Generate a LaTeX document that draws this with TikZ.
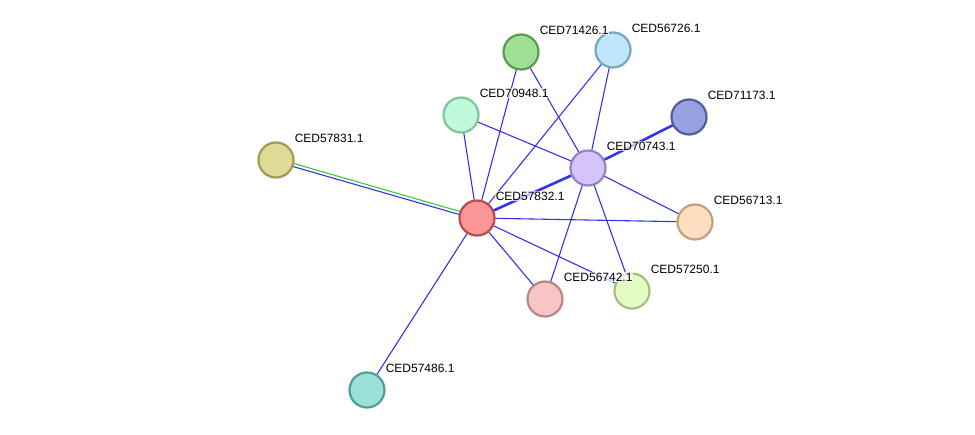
\documentclass[tikz,border=0pt]{standalone}
\usepackage{fontspec}
\setmainfont{Liberation Sans}
\usetikzlibrary{backgrounds}
\definecolor{edgeblue}{HTML}{3333EE}
\definecolor{edgegreen}{HTML}{33CC33}
\tikzset{
  prot/.style={circle, minimum size=35pt, inner sep=0pt, line width=2.2pt},
  lab/.style={anchor=west, font=\fontsize{12}{14}\selectfont, inner sep=0.6pt, fill=white, fill opacity=0.7, text opacity=1},
  edge/.style={draw=edgeblue, line width=1.1pt},
  thick edge/.style={draw=edgeblue, line width=2.6pt},
}
\begin{document}
\begin{tikzpicture}[x=1pt,y=-1pt]
\useasboundingbox (0,0) rectangle (975,435);
\node[prot, fill={rgb,255:red,250;green,150;blue,150}, draw={rgb,255:red,185;green,75;blue,75}] (n57832) at (477,218) {};
\node[prot, fill={rgb,255:red,212;green,196;blue,250}, draw={rgb,255:red,150;green,130;blue,195}] (n70743) at (588,168) {};
\node[prot, fill={rgb,255:red,160;green,224;blue,148}, draw={rgb,255:red,88;green,155;blue,80}] (n71426) at (521,52) {};
\node[prot, fill={rgb,255:red,192;green,230;blue,252}, draw={rgb,255:red,122;green,165;blue,190}] (n56726) at (613,50) {};
\node[prot, fill={rgb,255:red,192;green,250;blue,218}, draw={rgb,255:red,128;green,196;blue,158}] (n70948) at (461,115) {};
\node[prot, fill={rgb,255:red,152;green,162;blue,224}, draw={rgb,255:red,80;green,94;blue,158}] (n71173) at (689,117) {};
\node[prot, fill={rgb,255:red,222;green,220;blue,150}, draw={rgb,255:red,160;green,154;blue,82}] (n57831) at (276,160) {};
\node[prot, fill={rgb,255:red,253;green,222;blue,192}, draw={rgb,255:red,192;green,160;blue,128}] (n56713) at (695,222) {};
\node[prot, fill={rgb,255:red,226;green,252;blue,196}, draw={rgb,255:red,166;green,190;blue,128}] (n57250) at (632,291) {};
\node[prot, fill={rgb,255:red,248;green,196;blue,196}, draw={rgb,255:red,184;green,134;blue,134}] (n56742) at (545,299) {};
\node[prot, fill={rgb,255:red,156;green,224;blue,216}, draw={rgb,255:red,80;green,158;blue,150}] (n57486) at (367,390) {};

\begin{pgfonlayer}{background}
\draw[edge] (n57832.center) -- (n71426.center);
\draw[edge] (n57832.center) -- (n56726.center);
\draw[edge] (n57832.center) -- (n70948.center);
\draw[edge] (n57832.center) -- (n56713.center);
\draw[edge] (n57832.center) -- (n56742.center);
\draw[edge] (n57832.center) -- (n57250.center);
\draw[edge] (n57832.center) -- (n57486.center);
\draw[edge] (n70743.center) -- (n71426.center);
\draw[edge] (n70743.center) -- (n56726.center);
\draw[edge] (n70743.center) -- (n70948.center);
\draw[edge] (n70743.center) -- (n56713.center);
\draw[edge] (n70743.center) -- (n56742.center);
\draw[edge] (n70743.center) -- (n57250.center);
\draw[thick edge] (n57832.center) -- (n70743.center);
\draw[thick edge] (n70743.center) -- (n71173.center);
\draw[draw=edgegreen, line width=1.1pt] ([shift={(0.45,-1.5)}]n57831.center) -- ([shift={(0.45,-1.5)}]n57832.center);
\draw[edge] ([shift={(-0.45,1.5)}]n57831.center) -- ([shift={(-0.45,1.5)}]n57832.center);
\end{pgfonlayer}

\node[lab] (l57832) at ([shift={(18,-22)}]n57832.center) {CED57832.1};
\node[lab] (l70743) at ([shift={(18,-22)}]n70743.center) {CED70743.1};
\node[lab] (l71426) at ([shift={(18,-22)}]n71426.center) {CED71426.1};
\node[lab] (l56726) at ([shift={(18,-22)}]n56726.center) {CED56726.1};
\node[lab] (l70948) at ([shift={(18,-22)}]n70948.center) {CED70948.1};
\node[lab] (l71173) at ([shift={(18,-22)}]n71173.center) {CED71173.1};
\node[lab] (l57831) at ([shift={(18,-22)}]n57831.center) {CED57831.1};
\node[lab] (l56713) at ([shift={(18,-22)}]n56713.center) {CED56713.1};
\node[lab] (l57250) at ([shift={(18,-22)}]n57250.center) {CED57250.1};
\node[lab] (l56742) at ([shift={(18,-22)}]n56742.center) {CED56742.1};
\node[lab] (l57486) at ([shift={(18,-22)}]n57486.center) {CED57486.1};
\end{tikzpicture}
\end{document}
